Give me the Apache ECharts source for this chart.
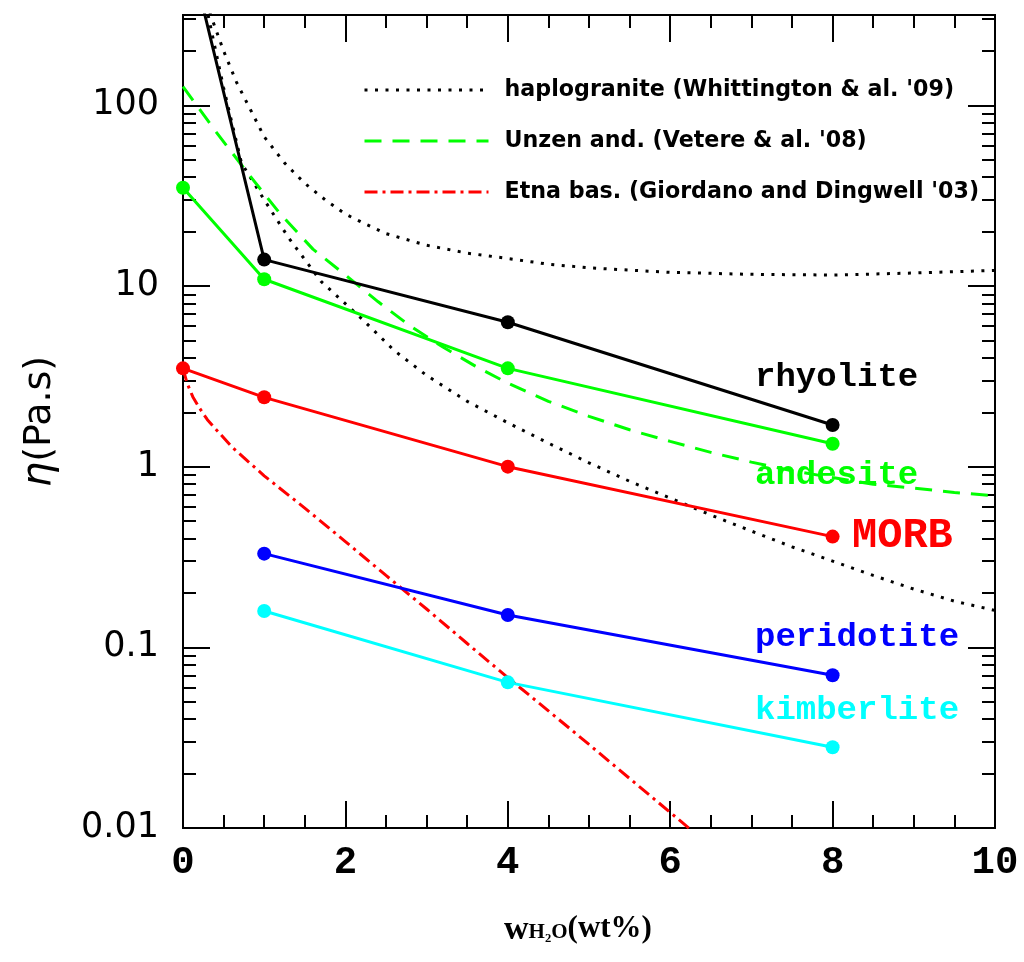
<!DOCTYPE html>
<html>
<head>
<meta charset="utf-8">
<title>Melt viscosity vs water content</title>
<script src="https://cdn.jsdelivr.net/npm/echarts@6/dist/echarts.min.js"></script>
<style>
  html, body { margin: 0; padding: 0; background: #fff; }
  #chart { width: 1024px; height: 962px; }
</style>
</head>
<body>
<div id="chart"></div>
<script>
// Water content (wt%) vs viscosity (Pa.s) for each melt composition
const rhyolite   = [[0, 1000], [1, 14], [4, 6.3], [8, 1.7]];
const andesite   = [[0, 35], [1, 10.9], [4, 3.5], [8, 1.34]];
const morb       = [[0, 3.5], [1, 2.42], [4, 1.0], [8, 0.41]];
const peridotite = [[1, 0.33], [4, 0.151], [8, 0.07]];
const kimberlite = [[1, 0.159], [4, 0.064], [8, 0.028]];

// Experimental reference curves
const haploHighT = [[0.25, 420], [0.37, 290], [0.5, 200], [0.66, 134], [0.85, 91], [1.0, 67],
  [1.25, 48], [1.5, 37], [1.75, 30], [2.0, 25], [2.25, 22], [2.5, 19.5], [3.0, 16.8],
  [3.5, 15.2], [4.0, 14.2], [4.5, 13.2], [5.0, 12.6], [6.0, 11.9], [7.0, 11.6],
  [8.0, 11.5], [9.0, 11.8], [10.0, 12.2]];
const haploLowT = [[0.2, 700], [0.3, 330], [0.5, 125], [0.72, 48], [1.0, 30], [1.3, 18.5],
  [1.7, 10.6], [2.2, 6.6], [2.6, 4.4], [3.0, 3.2], [3.5, 2.3], [4.0, 1.75], [4.5, 1.35],
  [5.0, 1.05], [5.5, 0.83], [6.0, 0.67], [6.5, 0.54], [7.0, 0.44], [7.5, 0.36],
  [8.0, 0.3], [8.5, 0.25], [9.0, 0.21], [9.5, 0.18], [10.0, 0.16]];
const unzen = [[0, 127], [0.4, 72], [0.8, 42], [1.2, 25], [1.6, 16], [2.0, 11.5], [2.4, 8.2],
  [2.8, 6.0], [3.2, 4.6], [3.6, 3.6], [4.0, 2.9], [4.5, 2.3], [5.0, 1.9], [5.5, 1.6],
  [6.0, 1.38], [6.5, 1.2], [7.0, 1.06], [7.5, 0.95], [8.0, 0.87], [8.5, 0.8],
  [9.0, 0.76], [9.5, 0.72], [10.0, 0.69]];
const etna = [[0, 3.5], [0.05, 2.9], [0.12, 2.44], [0.2, 2.12], [0.3, 1.82], [0.4, 1.62],
  [0.6, 1.29], [0.8, 1.07], [1.0, 0.89], [1.5, 0.59], [2.0, 0.385], [2.5, 0.25],
  [3.0, 0.163], [3.5, 0.105], [4.0, 0.068], [4.5, 0.0445], [5.0, 0.029], [5.5, 0.0188],
  [6.0, 0.0122], [6.5, 0.0079]];

// Axis ticks
const yMajorTicks = [0.01, 0.1, 1, 10, 100];
const yMinorTicks = [
  0.02, 0.03, 0.04, 0.05, 0.06, 0.07, 0.08, 0.09,
  0.2, 0.3, 0.4, 0.5, 0.6, 0.7, 0.8, 0.9,
  2, 3, 4, 5, 6, 7, 8, 9,
  20, 30, 40, 50, 60, 70, 80, 90,
  200, 300
];
const yTickLabels = ['0.01', '0.1', '1', '10', '100'];

const legendNames = {
  haplo: "haplogranite (Whittington & al. '09)",
  unzen: "Unzen and. (Vetere & al. '08)",
  etna: "Etna bas. (Giordano and Dingwell '03)"
};

const Y_MIN = 0.01, Y_MAX = Math.pow(10, 2.5);
const AXIS_COLOR = '#000';

function xAxisDef(pos, showLabels) {
  return {
    type: 'value', position: pos, min: 0, max: 10, interval: 2,
    axisLine: { show: true, onZero: false, lineStyle: { color: AXIS_COLOR, width: 2 } },
    axisTick: { show: true, inside: true, length: 27, lineStyle: { color: AXIS_COLOR, width: 2 } },
    minorTick: { show: true, splitNumber: 4, length: 13, lineStyle: { color: AXIS_COLOR, width: 2 } },
    splitLine: { show: false },
    axisLabel: showLabels ? {
      show: true, margin: 35, verticalAlign: 'middle',
      color: '#000', fontFamily: 'Liberation Mono', fontWeight: 'bold', fontSize: 39
    } : { show: false },
    name: showLabels ? '{w|w}{sub|H\u2082O}{p|(wt%)}' : '',
    nameLocation: 'middle', nameGap: 85,
    nameTextStyle: {
      padding: [0, 22, 0, 0],
      rich: {
        w: { fontFamily: 'Liberation Serif', fontWeight: 'bold', fontSize: 34, lineHeight: 30, verticalAlign: 'top', color: '#000' },
        sub: { fontFamily: 'Liberation Serif', fontWeight: 'bold', fontSize: 21, lineHeight: 20, padding: [24, 0, 0, 0], verticalAlign: 'bottom', color: '#000' },
        p: { fontFamily: 'Liberation Serif', fontWeight: 'bold', fontSize: 31, lineHeight: 30, verticalAlign: 'top', color: '#000' }
      }
    }
  };
}

function yAxisDef(pos, major, showLabels) {
  return {
    type: 'log', logBase: 10, position: pos, min: Y_MIN, max: Y_MAX,
    axisLine: { show: true, onZero: false, lineStyle: { color: AXIS_COLOR, width: 2 } },
    axisTick: {
      show: true, inside: true, length: major ? 27 : 13,
      customValues: major ? yMajorTicks : yMinorTicks,
      lineStyle: { color: AXIS_COLOR, width: 2 }
    },
    splitLine: { show: false },
    axisLabel: showLabels ? {
      show: true, margin: 24, customValues: yMajorTicks,
      formatter: v => yTickLabels[yMajorTicks.indexOf(v)] ?? '',
      color: '#000', fontFamily: 'DejaVu Sans', fontSize: 35
    } : { show: false },
    name: showLabels ? '{eta|\u03b7}{t|(Pa.s)}' : '',
    nameLocation: 'middle', nameGap: 123, nameRotate: 90,
    nameTextStyle: {
      rich: {
        eta: { fontFamily: 'DejaVu Sans', fontStyle: 'italic', fontSize: 40, color: '#000' },
        t: { fontFamily: 'DejaVu Sans', fontSize: 38, color: '#000' }
      }
    }
  };
}

function melt(name, data, color) {
  return {
    name, type: 'line', data, xAxisIndex: 0, yAxisIndex: 0,
    symbol: 'circle', symbolSize: 14, showSymbol: true, clip: true,
    lineStyle: { color, width: 3 }, itemStyle: { color },
    z: 3
  };
}

function curve(name, data, color, dash, width) {
  return {
    name, type: 'line', data, xAxisIndex: 0, yAxisIndex: 0,
    symbol: 'none', showSymbol: false, clip: true, smooth: false,
    lineStyle: { color, width, type: dash }, itemStyle: { color },
    z: 2
  };
}

const chart = echarts.init(document.getElementById('chart'), null, { renderer: 'canvas' });

chart.setOption({
  animation: false,
  backgroundColor: '#fff',
  grid: { left: 183, right: 29, top: 15, bottom: 134, containLabel: false, outerBoundsMode: 'none' },
  xAxis: [xAxisDef('bottom', true), xAxisDef('top', false)],
  yAxis: [
    yAxisDef('left', true, true),
    yAxisDef('left', false, false),
    yAxisDef('right', true, false),
    yAxisDef('right', false, false)
  ],
  legend: {
    data: [legendNames.haplo, legendNames.unzen, legendNames.etna],
    orient: 'vertical', left: 363, top: 75, padding: 0,
    itemWidth: 124, itemHeight: 14, itemGap: 21,
    selectedMode: false,
    itemStyle: { opacity: 0 },
    lineStyle: { width: 3 },
    textStyle: {
      fontFamily: 'DejaVu Sans', fontWeight: 'bold', fontSize: 22.2,
      lineHeight: 30, color: '#000', padding: [0, 0, 0, 11]
    }
  },
  series: [
    curve(legendNames.haplo, haploHighT, '#000', [3, 7.5], 3),
    curve(legendNames.haplo, haploLowT, '#000', [3, 7.5], 3),
    curve(legendNames.unzen, unzen, '#00ff00', [17, 11], 3),
    curve(legendNames.etna, etna, '#ff0000', [13, 5, 3, 5], 3),
    melt('rhyolite', rhyolite, '#000000'),
    melt('andesite', andesite, '#00ff00'),
    melt('MORB', morb, '#ff0000'),
    melt('peridotite', peridotite, '#0000ff'),
    melt('kimberlite', kimberlite, '#00ffff')
  ],
  graphic: [
    { type: 'text', x: 755, y: 377, z: 10, style: { text: 'rhyolite', fill: '#000', font: 'bold 34px "Liberation Mono"', textAlign: 'left', textVerticalAlign: 'middle', align: 'left', verticalAlign: 'middle' } },
    { type: 'text', x: 755, y: 475, z: 10, style: { text: 'andesite', fill: '#00ff00', font: 'bold 34px "Liberation Mono"', textAlign: 'left', textVerticalAlign: 'middle', align: 'left', verticalAlign: 'middle' } },
    { type: 'text', x: 852, y: 536, z: 10, style: { text: 'MORB', fill: '#ff0000', font: 'bold 42px "Liberation Mono"', textAlign: 'left', textVerticalAlign: 'middle', align: 'left', verticalAlign: 'middle' } },
    { type: 'text', x: 755, y: 637, z: 10, style: { text: 'peridotite', fill: '#0000ff', font: 'bold 34px "Liberation Mono"', textAlign: 'left', textVerticalAlign: 'middle', align: 'left', verticalAlign: 'middle' } },
    { type: 'text', x: 755, y: 710, z: 10, style: { text: 'kimberlite', fill: '#00ffff', font: 'bold 34px "Liberation Mono"', textAlign: 'left', textVerticalAlign: 'middle', align: 'left', verticalAlign: 'middle' } }
  ]
});
</script>
</body>
</html>
